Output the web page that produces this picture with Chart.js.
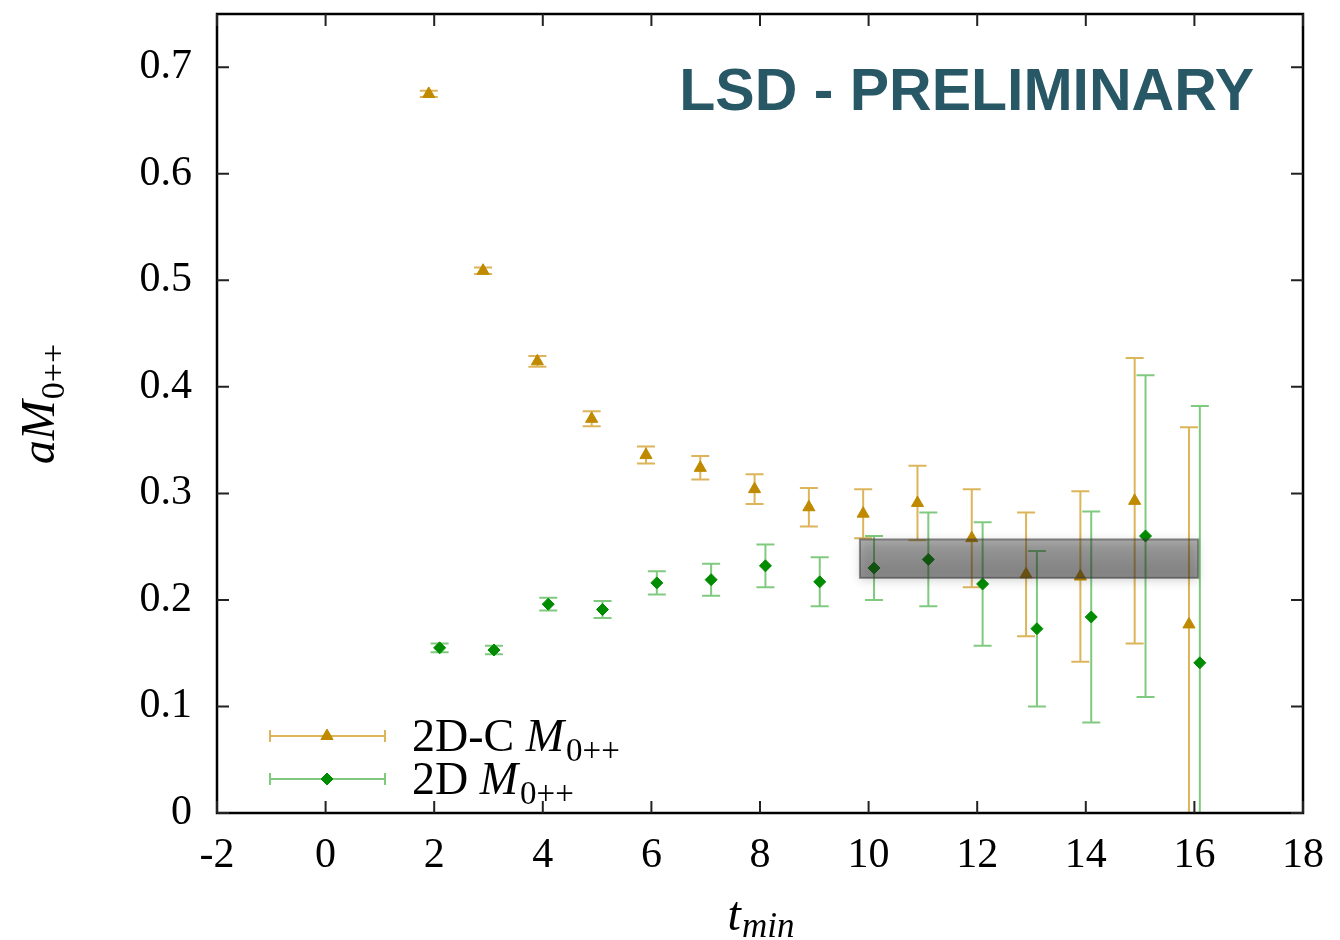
<!DOCTYPE html>
<html>
<head>
<meta charset="utf-8">
<script src="https://cdn.jsdelivr.net/npm/chart.js@4.4.0/dist/chart.umd.min.js"></script>
<style>
  html, body { margin: 0; padding: 0; background: #fff; }
  #wrap { width: 1340px; height: 940px; position: relative; }
</style>
</head>
<body>
<div id="wrap"><canvas id="mass-chart"></canvas></div>
<script>
// 2D-C fits (triangles)
const tminC = [1.9, 2.9, 3.9, 4.9, 5.9, 6.9, 7.9, 8.9, 9.9, 10.9, 11.9, 12.9, 13.9, 14.9, 15.9];
const massC = [0.675, 0.509, 0.424, 0.370, 0.336, 0.324, 0.304, 0.287, 0.281, 0.291, 0.258, 0.224, 0.222, 0.293, 0.177];
const errC = [0.003, 0.003, 0.005, 0.007, 0.008, 0.011, 0.014, 0.018, 0.023, 0.035, 0.046, 0.058, 0.080, 0.134, 0.185];

// 2D fits (diamonds)
const tmin2D = [2.1, 3.1, 4.1, 5.1, 6.1, 7.1, 8.1, 9.1, 10.1, 11.1, 12.1, 13.1, 14.1, 15.1, 16.1];
const mass2D = [0.155, 0.153, 0.196, 0.191, 0.216, 0.219, 0.232, 0.217, 0.230, 0.238, 0.215, 0.173, 0.184, 0.260, 0.141];
const err2D = [0.004, 0.004, 0.006, 0.008, 0.011, 0.015, 0.020, 0.023, 0.030, 0.044, 0.058, 0.073, 0.099, 0.151, 0.241];

// plateau fit band
const bandT = [9.84, 16.07];
const bandM = [0.2207, 0.2568];

const xTicks = [-2, 0, 2, 4, 6, 8, 10, 12, 14, 16, 18];
const yTicks = [0, 0.1, 0.2, 0.3, 0.4, 0.5, 0.6, 0.7];

const serif = '"Liberation Serif", "DejaVu Serif", serif';
const gold = '#c08a00';
const green = '#008c00';
const goldBar = 'rgba(205,150,20,0.7)';
const greenBar = 'rgba(0,150,0,0.5)';

// vertical error bars with caps
const errorBars = {
  id: 'errorBars',
  beforeDatasetsDraw(chart) {
    const { ctx, chartArea: a, scales: { x, y } } = chart;
    ctx.save();
    ctx.beginPath();
    ctx.rect(a.left, a.top, a.right - a.left, a.bottom - a.top);
    ctx.clip();
    chart.data.datasets.forEach((ds) => {
      ctx.strokeStyle = ds.barColor;
      ctx.lineWidth = 2;
      ds.data.forEach((p, i) => {
        const px = x.getPixelForValue(p.x);
        const top = y.getPixelForValue(p.y + ds.errors[i]);
        const bot = y.getPixelForValue(p.y - ds.errors[i]);
        ctx.beginPath();
        ctx.moveTo(px, top); ctx.lineTo(px, bot);
        ctx.moveTo(px - 9, top); ctx.lineTo(px + 9, top);
        ctx.moveTo(px - 9, bot); ctx.lineTo(px + 9, bot);
        ctx.stroke();
      });
    });
    ctx.restore();
  },
};

// grey fit band on top of the points
const fitBand = {
  id: 'fitBand',
  afterDatasetsDraw(chart) {
    const { ctx, scales: { x, y } } = chart;
    const l = x.getPixelForValue(bandT[0]);
    const r = x.getPixelForValue(bandT[1]);
    const t = y.getPixelForValue(bandM[1]);
    const b = y.getPixelForValue(bandM[0]);
    ctx.save();
    ctx.shadowColor = 'rgba(0,0,0,0.4)';
    ctx.shadowBlur = 10;
    ctx.shadowOffsetY = 2;
    const g = ctx.createLinearGradient(0, t, 0, b);
    g.addColorStop(0, 'rgba(40,40,40,0.36)');
    g.addColorStop(1, 'rgba(40,40,40,0.48)');
    ctx.fillStyle = g;
    ctx.fillRect(l, t, r - l, b - t);
    ctx.shadowColor = 'transparent';
    ctx.strokeStyle = 'rgba(60,60,60,0.55)';
    ctx.lineWidth = 2;
    ctx.strokeRect(l, t, r - l, b - t);
    ctx.restore();
  },
};

// draws a run of text pieces, returns the width
function drawParts(ctx, x, y, parts, measureOnly) {
  let cx = x;
  parts.forEach((p) => {
    ctx.font = p.font;
    if (!measureOnly) ctx.fillText(p.text, cx, y + (p.dy || 0));
    cx += ctx.measureText(p.text).width + (p.gap || 0);
  });
  return cx - x;
}

function legendMarker(ctx, style, color, radius, x, y) {
  if (Chart.helpers && Chart.helpers.drawPoint) {
    ctx.fillStyle = color;
    ctx.strokeStyle = color;
    ctx.lineWidth = 1;
    Chart.helpers.drawPoint(ctx, { pointStyle: style, radius: radius, borderWidth: 1, rotation: 0 }, x, y);
  }
}

// frame, inward ticks, labels, legend
const decorations = {
  id: 'decorations',
  afterDraw(chart) {
    const { ctx, chartArea: a, scales: { x, y } } = chart;
    ctx.save();
    ctx.strokeStyle = '#000';
    ctx.lineWidth = 2.5;
    ctx.strokeRect(a.left, a.top, a.right - a.left, a.bottom - a.top);
    ctx.lineWidth = 2;
    ctx.strokeStyle = '#222';
    ctx.beginPath();
    xTicks.forEach((v) => {
      const px = x.getPixelForValue(v);
      ctx.moveTo(px, a.bottom); ctx.lineTo(px, a.bottom - 12);
      ctx.moveTo(px, a.top); ctx.lineTo(px, a.top + 12);
    });
    yTicks.forEach((v) => {
      const py = y.getPixelForValue(v);
      ctx.moveTo(a.left, py); ctx.lineTo(a.left + 12, py);
      ctx.moveTo(a.right, py); ctx.lineTo(a.right - 12, py);
    });
    ctx.stroke();

    // watermark
    ctx.fillStyle = '#285866';
    ctx.font = 'bold 59px "Liberation Sans", Arial, sans-serif';
    ctx.textAlign = 'right';
    ctx.textBaseline = 'alphabetic';
    ctx.fillText('LSD - PRELIMINARY', 1254, 110);

    // x title
    ctx.textAlign = 'left';
    ctx.fillStyle = '#000';
    const xParts = [
      { text: 't', font: 'italic 48px ' + serif, gap: 1 },
      { text: 'min', font: 'italic 35px ' + serif, dy: 7 },
    ];
    const xw = drawParts(ctx, 0, 0, xParts, true);
    drawParts(ctx, 761 - xw / 2, 930, xParts);

    // y title, rotated
    const yParts = [
      { text: 'aM', font: 'italic 48px ' + serif, gap: 1 },
      { text: '0++', font: '34px ' + serif, dy: 10 },
    ];
    ctx.save();
    ctx.translate(54, 404);
    ctx.rotate(-Math.PI / 2);
    const yw = drawParts(ctx, 0, 0, yParts, true);
    drawParts(ctx, -yw / 2, 0, yParts);
    ctx.restore();

    // legend
    const rows = [
      { y: 736, color: gold, bar: goldBar, style: 'triangle', r: 7, name: '2D-C ' },
      { y: 779, color: green, bar: greenBar, style: 'rectRot', r: 6, name: '2D ' },
    ];
    rows.forEach((row) => {
      ctx.strokeStyle = row.bar;
      ctx.lineWidth = 2;
      ctx.beginPath();
      ctx.moveTo(270, row.y); ctx.lineTo(385, row.y);
      ctx.moveTo(270, row.y - 6); ctx.lineTo(270, row.y + 6);
      ctx.moveTo(385, row.y - 6); ctx.lineTo(385, row.y + 6);
      ctx.stroke();
      legendMarker(ctx, row.style, row.color, row.r, 327, row.y);
      ctx.fillStyle = '#000';
      drawParts(ctx, 412, row.y + 15, [
        { text: row.name, font: '46px ' + serif },
        { text: 'M', font: 'italic 46px ' + serif, gap: 2 },
        { text: '0++', font: '33px ' + serif, dy: 10 },
      ]);
    });
    ctx.restore();
  },
};

const ctx = document.getElementById('mass-chart');
new Chart(ctx, {
  type: 'scatter',
  data: {
    datasets: [{
      label: '2D-C M0++',
      data: tminC.map((t, i) => ({ x: t, y: massC[i] })),
      errors: errC,
      barColor: goldBar,
      pointStyle: 'triangle',
      pointRadius: 7,
      backgroundColor: gold,
      borderColor: gold,
      borderWidth: 1,
    }, {
      label: '2D M0++',
      data: tmin2D.map((t, i) => ({ x: t, y: mass2D[i] })),
      errors: err2D,
      barColor: greenBar,
      pointStyle: 'rectRot',
      pointRadius: 6,
      backgroundColor: green,
      borderColor: green,
      borderWidth: 1,
    }],
  },
  options: {
    animation: false,
    responsive: true,
    maintainAspectRatio: false,
    layout: { padding: { top: 14, right: 37, left: 0, bottom: 0 } },
    plugins: { legend: { display: false }, tooltip: { enabled: false } },
    scales: {
      x: {
        type: 'linear',
        min: -2,
        max: 18,
        afterBuildTicks: (s) => { s.ticks = xTicks.map((v) => ({ value: v })); },
        afterFit: (s) => { s.height = 127; s.paddingLeft = 0; s.paddingRight = 0; },
        ticks: { color: '#000', font: { family: serif, size: 42 }, padding: 18, maxRotation: 0, autoSkip: false },
        grid: { display: false, drawTicks: false },
        border: { display: false },
      },
      y: {
        min: 0,
        max: 0.75,
        afterBuildTicks: (s) => { s.ticks = yTicks.map((v) => ({ value: v })); },
        afterFit: (s) => { s.width = 217; s.paddingTop = 0; s.paddingBottom = 0; },
        ticks: {
          color: '#000',
          font: { family: serif, size: 42 },
          padding: 25,
          autoSkip: false,
          callback: (v) => (v === 0 ? '0' : v.toFixed(1)),
        },
        grid: { display: false, drawTicks: false },
        border: { display: false },
      },
    },
  },
  plugins: [errorBars, fitBand, decorations],
});
</script>
</body>
</html>
